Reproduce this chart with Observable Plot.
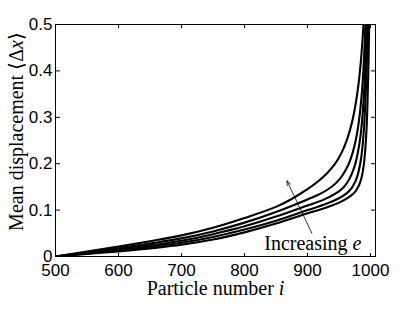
<!DOCTYPE html>
<html>
<head>
<meta charset="utf-8">
<script src="https://cdn.jsdelivr.net/npm/d3@7"></script>
<script src="https://cdn.jsdelivr.net/npm/@observablehq/plot@0.6"></script>
<style>
  html, body { margin: 0; padding: 0; background: white; }
</style>
</head>
<body>
<div id="chart"></div>
<script>
// Tick values
const xTicks = [500, 600, 700, 800, 900, 1000];
const yTicks = [0, 0.1, 0.2, 0.3, 0.4, 0.5];

// Curves (particle number i, mean displacement), lowest e to highest e
const curveA_i = [500, 550, 600, 650, 700, 750, 800, 850, 900, 930, 955, 968, 976, 982, 986, 989, 991.5, 993.5, 995, 996.5, 998];
const curveA_v = [0, 0.0055, 0.011, 0.0175, 0.0252, 0.0365, 0.052, 0.071, 0.093, 0.1056, 0.1194, 0.13, 0.14, 0.154, 0.171, 0.193, 0.226, 0.268, 0.317, 0.392, 0.5];

const curveB_i = [500, 550, 600, 650, 700, 750, 800, 850, 900, 930, 950, 962, 970, 976, 980, 984, 987, 989.5, 991.5, 993.5, 996];
const curveB_v = [0, 0.0065, 0.0135, 0.021, 0.0295, 0.042, 0.058, 0.077, 0.1, 0.1135, 0.1255, 0.136, 0.1475, 0.162, 0.177, 0.202, 0.232, 0.272, 0.32, 0.388, 0.5];

const curveC_i = [500, 550, 600, 650, 700, 750, 800, 850, 900, 925, 945, 955, 963, 970, 976, 980, 984, 987, 989.5, 991.5, 994];
const curveC_v = [0, 0.0075, 0.0155, 0.024, 0.034, 0.048, 0.065, 0.086, 0.11, 0.122, 0.136, 0.146, 0.159, 0.177, 0.2, 0.224, 0.258, 0.297, 0.344, 0.4, 0.5];

const curveD_i = [500, 550, 600, 650, 700, 750, 800, 850, 900, 920, 940, 952, 960, 966, 972, 977, 981, 984, 987, 990, 992];
const curveD_v = [0, 0.0088, 0.018, 0.028, 0.039, 0.054, 0.073, 0.096, 0.123, 0.135, 0.152, 0.1685, 0.185, 0.201, 0.225, 0.253, 0.285, 0.318, 0.364, 0.433, 0.5];

const curveE_i = [500, 550, 600, 650, 700, 750, 800, 850, 875, 900, 915, 930, 944, 955, 962, 968, 972.5, 977, 981, 985, 989];
const curveE_v = [0, 0.0105, 0.0215, 0.033, 0.0455, 0.062, 0.083, 0.107, 0.124, 0.145, 0.16, 0.178, 0.2, 0.226, 0.249, 0.275, 0.3, 0.333, 0.371, 0.424, 0.5];

const seriesNames = ["A", "B", "C", "D", "E"];
const seriesI = [curveA_i, curveB_i, curveC_i, curveD_i, curveE_i];
const seriesV = [curveA_v, curveB_v, curveC_v, curveD_v, curveE_v];

// Annotation
const arrowFrom = [907, 0.05];
const arrowTo = [867.5, 0.163];
const noteText = "Increasing e";
const notePos = [908.5, 0.015];

const xLabel = "Particle number i";
const yLabel = "Mean displacement ⟨Δx⟩";

const rows = [];
seriesNames.forEach((s, k) => {
  seriesI[k].forEach((i, j) => rows.push({s, i, v: seriesV[k][j]}));
});

const serif = "'Liberation Serif', 'Times New Roman', serif";
const sans = "'Liberation Sans', Arial, Helvetica, sans-serif";
const plotH = 313 - 24 - 57;
const plotW = 415 - 55 - 40;
const tick = 4;

const svg = Plot.plot({
  width: 415,
  height: 313,
  marginLeft: 55,
  marginRight: 40,
  marginTop: 24,
  marginBottom: 57,
  style: {background: "white", color: "black", fontFamily: sans, overflow: "visible"},
  x: {domain: [500, 1008]},
  y: {domain: [0, 0.5]},
  marks: [
    Plot.line(rows, {x: "i", y: "v", z: "s", stroke: "black", strokeWidth: 2.1, curve: "catmull-rom", clip: true}),
    Plot.arrow([{a: arrowFrom, b: arrowTo}], {
      x1: d => d.a[0], y1: d => d.a[1], x2: d => d.b[0], y2: d => d.b[1],
      stroke: "black", strokeWidth: 0.8, headLength: 9, headAngle: 45
    }),
    Plot.text([noteText], {x: () => notePos[0], y: () => notePos[1], text: d => d, lineAnchor: "bottom", textAnchor: "middle", fontFamily: serif, fontSize: 20, fill: "black"}),
    // inward ticks
    Plot.axisX(xTicks, {anchor: "top", dy: plotH, tickSize: tick, tickFormat: () => "", label: null}),
    Plot.axisX(xTicks, {anchor: "bottom", dy: -plotH, tickSize: tick, tickFormat: () => "", label: null}),
    Plot.axisY(yTicks, {anchor: "right", dx: -plotW, tickSize: tick, tickFormat: () => "", label: null}),
    Plot.axisY(yTicks, {anchor: "left", dx: plotW, tickSize: tick, tickFormat: () => "", label: null}),
    // tick labels
    Plot.axisX(xTicks, {anchor: "bottom", tickSize: 0, tickPadding: 7, fontSize: 17, tickFormat: d => String(d), label: null}),
    Plot.axisY(yTicks, {anchor: "left", tickSize: 0, tickPadding: 3, fontSize: 17, tickFormat: d3.format("~g"), label: null}),
    Plot.frame({stroke: "black", strokeWidth: 1}),
    Plot.text([xLabel], {frameAnchor: "bottom", text: d => d, textAnchor: "middle", lineAnchor: "bottom", dy: 38, fontFamily: serif, fontSize: 20, fill: "black"}),
    Plot.text([yLabel], {frameAnchor: "left", text: d => d, textAnchor: "middle", rotate: -90, lineAnchor: "bottom", dx: -33, dy: -9, fontFamily: serif, fontSize: 20, fill: "black"})
  ]
});

// italic math variables
const NS = "http://www.w3.org/2000/svg";
function styleParts(full, parts) {
  for (const t of svg.querySelectorAll("text")) {
    if (t.textContent === full) {
      t.textContent = "";
      for (const [str, ital] of parts) {
        const sp = document.createElementNS(NS, "tspan");
        sp.textContent = str;
        if (ital) sp.setAttribute("font-style", "italic");
        t.appendChild(sp);
      }
    }
  }
}
styleParts(xLabel, [["Particle number ", false], ["i", true]]);
styleParts(noteText, [["Increasing ", false], ["e", true]]);
styleParts(yLabel, [["Mean displacement ⟨Δ", false], ["x", true], ["⟩", false]]);

document.getElementById("chart").appendChild(svg);
</script>
</body>
</html>
